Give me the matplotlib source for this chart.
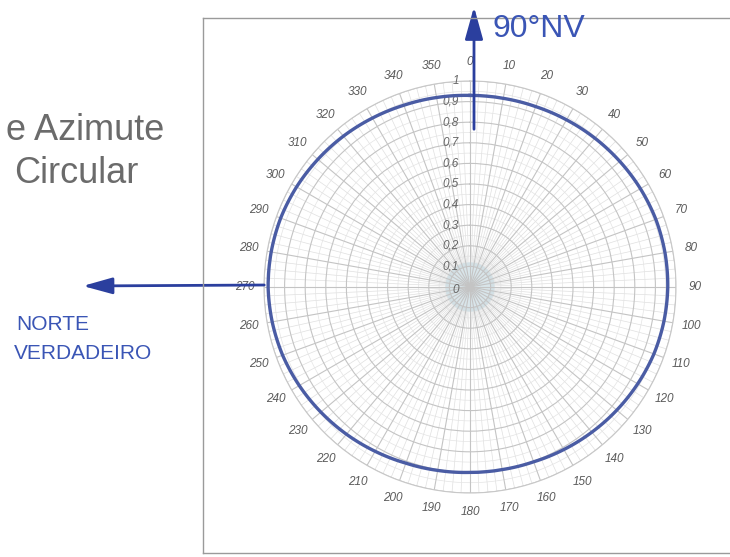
import numpy as np
import matplotlib
matplotlib.use("Agg")
import matplotlib.pyplot as plt
from matplotlib.lines import Line2D
from matplotlib.patches import FancyArrowPatch

# ---- data ----
angles_deg = [0, 10, 20, 30, 40, 50, 60, 70, 80, 90, 100, 110, 120, 130, 140, 150, 160, 170,
              180, 190, 200, 210, 220, 230, 240, 250, 260, 270, 280, 290, 300, 310, 320, 330,
              340, 350, 360]
radius_vals = [0.930, 0.930, 0.932, 0.937, 0.943, 0.949, 0.955, 0.960, 0.961, 0.960, 0.956,
               0.950, 0.940, 0.930, 0.920, 0.911, 0.903, 0.900, 0.900, 0.904, 0.910, 0.921,
               0.933, 0.945, 0.957, 0.968, 0.975, 0.980, 0.980, 0.978, 0.972, 0.964, 0.956,
               0.947, 0.939, 0.934, 0.930]
theta_ticks = list(range(0, 360, 10))
theta_labels = [str(t) for t in theta_ticks]
r_ticks = [0.1, 0.2, 0.3, 0.4, 0.5, 0.6, 0.7, 0.8, 0.9, 1.0]
r_labels = ["0,1", "0,2", "0,3", "0,4", "0,5", "0,6", "0,7", "0,8", "0,9", "1"]

plt.rcParams['font.family'] = ['Liberation Sans', 'DejaVu Sans']

W, H = 730, 557
fig = plt.figure(figsize=(W / 100, H / 100), dpi=100)
fig.patch.set_facecolor('white')

cx, cy, R = 470, 287, 206
ax = fig.add_axes([(cx - R) / W, 1 - (cy + R) / H, 2 * R / W, 2 * R / H], projection='polar')
ax.set_theta_zero_location('N')
ax.set_theta_direction(-1)
ax.set_ylim(0, 1)
ax.set_facecolor('white')
ax.spines['polar'].set_color('#c8c8c8')
ax.spines['polar'].set_linewidth(0.8)

# grid
ax.set_thetagrids(theta_ticks, theta_labels, fontsize=8.5, color='#5a5a5a', fontstyle='italic')
ax.tick_params(axis='x', pad=3)
ax.set_rgrids(r_ticks, [''] * len(r_ticks))
ax.grid(True, color='#c4c4c4', linewidth=0.8)
for a in np.arange(0, 360, 2.5):
    if a % 10 != 0:
        ax.plot([np.deg2rad(a)] * 2, [0.1, 1.0], color='#e0e0e0', lw=0.5, zorder=0.5)
for rr in np.arange(0.05, 1.0, 0.1):
    ax.plot(np.linspace(0, 2 * np.pi, 361), [rr] * 361, color='#e4e4e4', lw=0.5, zorder=0.5)

# soft smudge in center
tt = np.linspace(0, 2 * np.pi, 100)
ax.fill(tt, [0.12] * 100, color='#c9dbe2', alpha=0.7, zorder=0.6, lw=0)

# radial labels
for r, lab in zip(r_ticks, r_labels):
    ax.annotate(lab, xy=(0, r), xytext=(-8, 0), textcoords='offset points',
                ha='right', va='center', fontsize=8.5, color='#666666', fontstyle='italic')
ax.annotate("0", xy=(0, 0), xytext=(-8, -2), textcoords='offset points',
            ha='right', va='center', fontsize=8.5, color='#666666', fontstyle='italic')

# data curve (drawn with arc interpolation between points)
line, = ax.plot(np.deg2rad(angles_deg), radius_vals, color='#4a5ca4', lw=2.4, zorder=3)
try:
    line.get_path()._interpolation_steps = 20
except Exception:
    pass

# frame
fc = '#9a9a9a'
fig.add_artist(Line2D([203 / W, 1.0], [1 - 18 / H, 1 - 18 / H], transform=fig.transFigure, color=fc, lw=1))
fig.add_artist(Line2D([203 / W, 203 / W], [1 - 18 / H, 1 - 553 / H], transform=fig.transFigure, color=fc, lw=1))
fig.add_artist(Line2D([203 / W, 1.0], [1 - 553 / H, 1 - 553 / H], transform=fig.transFigure, color=fc, lw=1))

# title fragments
fig.text(164 / W, 1 - 140 / H, "e Azimute", ha='right', va='baseline', fontsize=26, color='#6b6b6b')
fig.text(139 / W, 1 - 183 / H, "Circular", ha='right', va='baseline', fontsize=26, color='#6b6b6b')

# hand annotations
blue = '#2b3f9e'
fig.add_artist(FancyArrowPatch((474 / W, 1 - 132 / H), (474 / W, 1 - 4 / H), transform=fig.transFigure,
                               arrowstyle='-|>,head_length=0.9,head_width=0.25', mutation_scale=22,
                               color=blue, lw=2))
fig.add_artist(FancyArrowPatch((267 / W, 1 - 285 / H), (80 / W, 1 - 286 / H), transform=fig.transFigure,
                               arrowstyle='-|>,head_length=0.9,head_width=0.25', mutation_scale=20,
                               color=blue, lw=2))
fig.text(492 / W, 1 - 29 / H, "90°NV", ha='left', va='center', fontsize=23, color='#3a55b5')
fig.text(16 / W, 1 - 330 / H, "NORTE", ha='left', va='baseline', fontsize=15, color='#3a55b5')
fig.text(14 / W, 1 - 359 / H, "VERDADEIRO", ha='left', va='baseline', fontsize=15, color='#3a55b5')

fig.savefig('out.png', dpi=100)
